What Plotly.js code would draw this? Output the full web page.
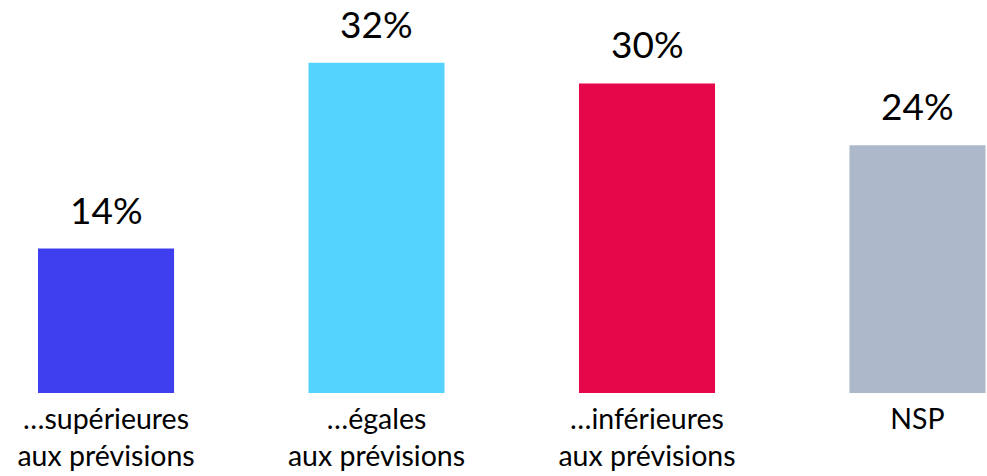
<!DOCTYPE html>
<html><head><meta charset="utf-8">
<script src="https://cdn.plot.ly/plotly-3.0.1.min.js"></script>
<style>html,body{margin:0;padding:0;background:#fff}#chart{width:987px;height:476px}</style>
</head><body><div id="chart"></div>
<script>
const categories = ["…supérieures<br>aux prévisions", "…égales<br>aux prévisions", "…inférieures<br>aux prévisions", "NSP"];
const values = [14, 32, 30, 24];
const labels = ["14%", "32%", "30%", "24%"];
const colors = ["#3F3FEF", "#54D3FF", "#E6064A", "#ADB8CB"];

const FONT = "Lato, 'Open Sans', sans-serif";
const idx = categories.map((c, i) => i);

const trace = {
  type: "bar",
  x: idx,
  y: values,
  width: 0.503,
  marker: {color: colors},
  hoverinfo: "none"
};

const annotations = values.map((v, i) => ({
  x: i, y: v, xref: "x", yref: "y",
  text: labels[i], showarrow: false,
  yanchor: "bottom", yshift: 15,
  font: {family: FONT, size: 37, color: "#000"}
}));

const layout = {
  width: 987, height: 476,
  margin: {l: 0, r: 0, t: 0, b: 83, pad: 0},
  paper_bgcolor: "#fff", plot_bgcolor: "#fff",
  showlegend: false,
  xaxis: {
    range: [-0.392, 3.257],
    tickvals: idx, ticktext: categories,
    showgrid: false, zeroline: false, showline: false, ticks: "",
    ticklabelstandoff: 6,
    tickfont: {family: FONT, size: 28.5, color: "#000"}
  },
  yaxis: {
    range: [0, 38.08], visible: false, showgrid: false, zeroline: false
  },
  annotations: annotations
};

Plotly.newPlot("chart", [trace], layout, {displayModeBar: false, staticPlot: true});
</script></body></html>
